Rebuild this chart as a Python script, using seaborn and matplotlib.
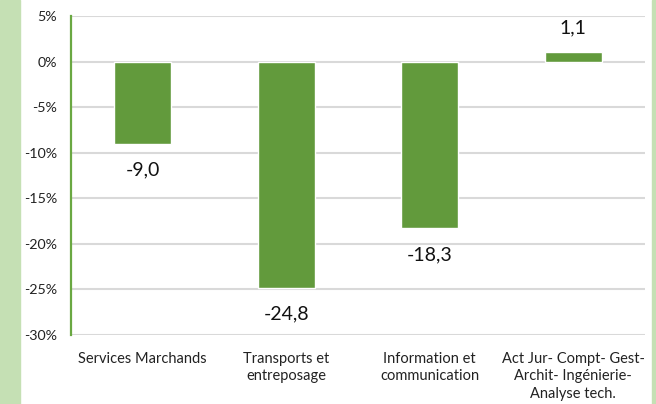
import matplotlib
matplotlib.use("Agg")
import matplotlib.pyplot as plt
import seaborn as sns
import pandas as pd
from matplotlib.patches import Rectangle
from matplotlib.ticker import FuncFormatter

categories = [
    "Services Marchands",
    "Transports et\nentreposage",
    "Information et\ncommunication",
    "Act Jur- Compt- Gest-\nArchit- Ingénierie-\nAnalyse tech.",
]
values = [-9.0, -24.8, -18.3, 1.1]
y_ticks = [5, 0, -5, -10, -15, -20, -25, -30]

bar_color = "#629A3C"
axis_green = "#6AA842"
strip_green = "#C5E0B4"
grid_grey = "#D9D9D9"

sns.set_style("white")
plt.rcParams["font.family"] = ["Lato", "DejaVu Sans"]

df = pd.DataFrame({"cat": categories, "val": values})

fig = plt.figure(figsize=(6.56, 4.04), dpi=100)
# green side strips of the original frame
fig.patches.append(Rectangle((0, 0), 20 / 656, 1, transform=fig.transFigure,
                             color=strip_green, zorder=0))
fig.patches.append(Rectangle((652 / 656, 0), 4 / 656, 1, transform=fig.transFigure,
                             color=strip_green, zorder=0))

ax = fig.add_axes([71 / 656, 69 / 404, 574 / 656, 319 / 404])
sns.barplot(data=df, x="cat", y="val", color=bar_color, width=0.4,
            saturation=1, ax=ax, zorder=3)

ax.set_ylim(-30, 5)
ax.set_yticks(y_ticks)
ax.yaxis.set_major_formatter(FuncFormatter(lambda v, p: f"{v:.0f}%"))
ax.grid(axis="y", color=grid_grey, linewidth=1.5, zorder=0)
ax.set_axisbelow(True)

for s in ["top", "right", "bottom"]:
    ax.spines[s].set_visible(False)
ax.spines["left"].set_color(axis_green)
ax.spines["left"].set_linewidth(1.6)
ax.spines["left"].set_zorder(4)
ax.tick_params(axis="y", colors=axis_green, length=4, width=1.6,
               labelcolor="#222222", labelsize=10.3, pad=6)
ax.tick_params(axis="x", length=0, labelsize=10.5, labelcolor="#222222", pad=12)
for lbl in ax.get_xticklabels():
    lbl.set_linespacing(1.32)
    lbl.set_verticalalignment("top")

ax.set_xlabel("")
ax.set_ylabel("")

for i, v in enumerate(values):
    txt = f"{v:.1f}".replace(".", ",")
    off = 17 if v > 0 else -19
    ax.annotate(txt, (i, v), xytext=(0, off), textcoords="offset points",
                ha="center", va="center", fontsize=14, color="#111111")

fig.savefig("out.png", dpi=100)
